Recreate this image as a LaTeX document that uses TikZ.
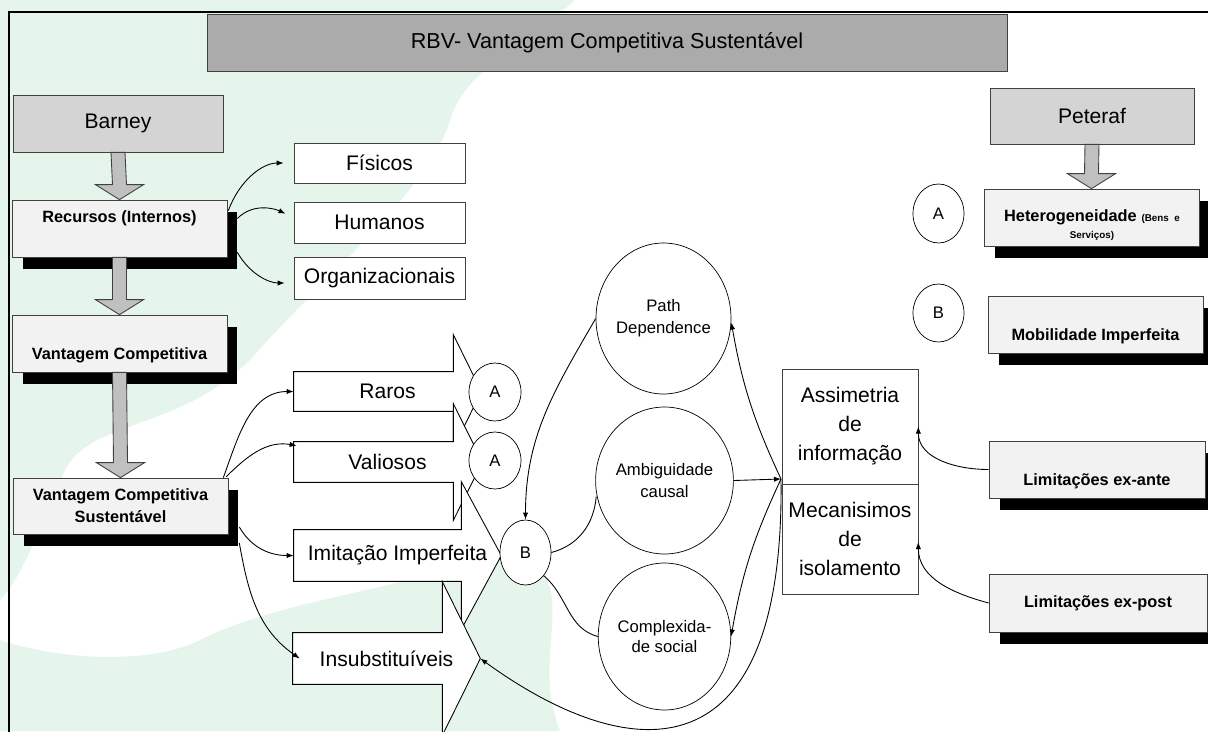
\documentclass[tikz,border=0pt]{standalone}
\usepackage{fontspec}
\setmainfont{Liberation Sans}
\usepackage{tikz}
\usetikzlibrary{calc,shapes.geometric,shadows,arrows.meta}
\definecolor{bggreen}{RGB}{229,245,235}
\definecolor{titlegray}{RGB}{171,171,171}
\definecolor{headgray}{RGB}{212,212,212}
\definecolor{boxgray}{RGB}{242,242,242}
\definecolor{arrgray}{RGB}{192,192,192}
\definecolor{edgegray}{RGB}{64,64,64}
\newcommand{\fmain}{\fontsize{12}{16.5}\selectfont}
\newcommand{\fbold}{\fontsize{9.3}{12.5}\selectfont\bfseries}
\newcommand{\fsmall}{\fontsize{9.5}{12.5}\selectfont}
\newcommand{\ftiny}{\fontsize{5.6}{7}\selectfont\bfseries}
\tikzstyle{headbox}=[
        draw=edgegray, fill=headgray, minimum height=1.14cm, inner sep=0pt, font=\fmain
]
\tikzstyle{shadowbox}=[
        draw=edgegray, fill=boxgray, minimum width=4.3cm, minimum height=1.14cm, inner sep=0pt,
        drop shadow={shadow xshift=0.21cm, shadow yshift=-0.24cm, fill=black, opacity=1}
]
\tikzstyle{plainbox}=[
        draw=edgegray, fill=white, inner sep=0pt, font=\fmain, align=center
]
\tikzstyle{bubble}=[
        draw, fill=white, ellipse, inner sep=0pt, font=\fsmall, align=center
]
\tikzstyle{arrbody}=[inner sep=0pt]
\tikzstyle{blockline}=[draw=black, fill=white, line width=0.5pt]
\tikzstyle{grayarr}=[draw=edgegray, fill=arrgray, line width=0.5pt]
\tikzstyle{conn}=[-{Latex[length=4pt,width=3pt]}, line width=0.5pt]
\tikzstyle{link}=[line width=0.5pt]
\newcommand{\downblock}[2]{%
        \draw[grayarr] ($(#1)+(-7,0)$) -- ($(#2)+(-7,-15)$) -- ($(#2)+(-24,-15)$) -- (#2)
                -- ($(#2)+(24,-15)$) -- ($(#2)+(7,-15)$) -- ($(#1)+(7,0)$) -- cycle;
}
\newcommand{\rightblock}[3]{%
        \draw[blockline] (#1.north west) -- (#1.north east) -- ++(0,-#2) -- ($(#1.east)+(#3,0)$)
                -- ($(#1.south east)+(0,#2)$) -- (#1.south east) -- (#1.south west) -- cycle;
}
\begin{document}
\begin{tikzpicture}[x=0.02cm, y=-0.02cm]
                        \useasboundingbox (0,0) rectangle (1208,731);
                        \clip (0,0) rectangle (1208,731);

                        \fill[bggreen] (0,0) -- (575,0) .. controls (520,50) and (465,70) .. (450,120)
                                .. controls (430,190) and (320,280) .. (250,360)
                                .. controls (180,430) and (90,420) .. (65,470)
                                .. controls (40,530) and (20,580) .. (0,600) -- cycle;
                        \fill[bggreen] (0,640) .. controls (60,660) and (150,665) .. (200,640)
                                .. controls (280,600) and (400,590) .. (470,560)
                                .. controls (510,545) and (550,560) .. (552,600)
                                .. controls (555,640) and (540,680) .. (560,731) -- (0,731) -- cycle;

                        \draw[line width=1.2pt] (9,760) -- (9,12) -- (1230,12);

                        \node[headbox, fill=titlegray, minimum width=16cm, font=\fontsize{12.3}{14}\selectfont] (title) at (607,42.5) {RBV- Vantagem Competitiva Sustentável};

                        \node[headbox, minimum width=4.2cm] (barney) at (118,123.5) {Barney};
                        \node[shadowbox] (rec) at (119.5,228.5) {};
                        \node[font=\fbold] at ($(rec.center)+(0,-10.5)$) {Recursos (Internos)};
                        \node[shadowbox] (vc) at (119.5,343.5) {};
                        \node[font=\fbold] at ($(vc.center)+(0,11.5)$) {Vantagem Competitiva};
                        \node[shadowbox, minimum height=1.12cm, font=\fbold, align=center] (vcs) at (120.5,506) {Vantagem Competitiva\\Sustentável};

                        \downblock{barney.south}{rec.north}
                        \downblock{rec.south}{vc.north}
                        \downblock{vc.south}{vcs.north}

                        \node[plainbox, minimum width=3.42cm, minimum height=0.8cm] (fis) at (379.5,163) {Físicos};
                        \node[plainbox, minimum width=3.42cm, minimum height=0.82cm] (hum) at (379.5,222.5) {Humanos};
                        \node[plainbox, minimum width=3.42cm, minimum height=0.84cm] (org) at (379.5,278) {Organizacionais};

                        \node[arrbody, minimum width=3.18cm, minimum height=0.78cm] (raros) at (373.5,391.5) {};
                        \rightblock{raros}{37}{28}
                        \node[font=\fmain] at ($(raros.center)+(14,0)$) {Raros};
                        \node[arrbody, minimum width=3.18cm, minimum height=0.8cm] (valio) at (373.5,462) {};
                        \rightblock{valio}{38}{29}
                        \node[font=\fmain] at ($(valio.center)+(14,0)$) {Valiosos};
                        \node[arrbody, minimum width=3.34cm, minimum height=1.02cm] (imi) at (377.5,555.5) {};
                        \rightblock{imi}{48}{40}
                        \node[font=\fmain] at ($(imi.center)+(20,0)$) {Imitação Imperfeita};
                        \node[arrbody, minimum width=2.98cm, minimum height=1.02cm] (insub) at (367.5,658.5) {};
                        \rightblock{insub}{51}{38}
                        \node[font=\fmain] at ($(insub.center)+(19,0)$) {Insubstituíveis};

                        \node[bubble, minimum width=1.04cm, minimum height=1.16cm] (ra) at (495,392) {A};
                        \node[bubble, minimum width=1.04cm, minimum height=1.14cm] (va) at (495,460.5) {A};
                        \node[bubble, minimum width=1.02cm, minimum height=1.3cm] (nb) at (525.5,552.5) {B};

                        \node[bubble, minimum width=2.7cm, minimum height=3.02cm] (pd) at (663.5,318.5) {Path\\Dependence};
                        \node[bubble, minimum width=2.62cm, minimum height=2.94cm] (amb) at (664.5,480.5) {Ambiguidade\\causal};
                        \node[bubble, minimum width=2.62cm, minimum height=2.94cm, font=\fontsize{9.5}{11.5}\selectfont] (cplx) at (664.5,636.5) {Complexida-\\de social};

                        \node[plainbox, minimum width=2.72cm, minimum height=2.3cm] (asym) at (850,426.5) {Assimetria\\de\\informação};
                        \node[plainbox, minimum width=2.72cm, minimum height=2.2cm] (mec) at (850,539) {Mecanisimos\\de\\isolamento};

                        \node[headbox, minimum width=4.08cm, minimum height=1.12cm] (peteraf) at (1092,116) {Peteraf};
                        \node[shadowbox] (het) at (1091.5,217.5) {};
                        \node[anchor=base] at (1092,221) {{\fbold Heterogeneidade} {\ftiny (Bens~~e}};
                        \node[anchor=base, font=\ftiny] at (1092,238) {Serviços)};
                        \downblock{peteraf.south}{het.north}
                        \node[bubble, minimum width=1.02cm, minimum height=1.18cm] (pa) at (938.5,213.5) {A};
                        \node[bubble, minimum width=1.02cm, minimum height=1.16cm] (pb) at (938.5,313) {B};
                        \node[shadowbox] (mob) at (1095.5,324.5) {};
                        \node[font=\fbold] at ($(mob.center)+(0,11.5)$) {Mobilidade Imperfeita};
                        \node[shadowbox, minimum width=4.32cm] (exante) at (1097,469.5) {};
                        \node[font=\fbold] at ($(exante.center)+(0,11.5)$) {Limitações ex-ante};
                        \node[shadowbox, minimum width=4.36cm, minimum height=1.16cm, font=\fbold] (expost) at (1098,603) {Limitações ex-post};

                        \draw[conn, shorten >=0.2cm] ($(rec.north east)+(1,11)$) to[out=70,in=180] (fis.west);
                        \draw[conn, shorten >=0.18cm] ($(rec.east)+(10,-10)$) to[out=45,in=155] ($(hum.west)+(0,-5)$);
                        \draw[conn, shorten >=0.18cm] ($(rec.south east)+(10,-5)$) to[out=-60,in=180] ($(org.west)+(0,5)$);

                        \draw[conn] ($(vcs.north east)+(-5,0)$) to[out=70,in=180] (raros.west);
                        \draw[conn] ($(vcs.north east)+(-2,-1)$) to[out=45,in=170] ($(valio.north west)+(3,4)$);
                        \draw[conn] ($(vcs.east)+(11,21)$) to[out=-60,in=180] (imi.west);
                        \draw[conn] ($(vcs.east)+(11,37)$) to[out=-80,in=145] ($(insub.west)+(7,0)$);

                        \coordinate (jn) at (781,479);
                        \coordinate (insubtip) at ($(insub.east)+(38,0)$);
                        \draw[conn] (pd.west) to[out=240,in=90] (nb.north);
                        \draw[link] (nb.east) to[out=15,in=-95] ($(amb.west)+(1,16)$);
                        \draw[link] (nb.south east) to[out=-40,in=165] (cplx.west);
                        \draw[conn] (jn) to[out=115,in=-80] ($(pd.east)+(0,4)$);
                        \draw[conn] (amb.east) -- (jn);
                        \draw[conn] (jn) to[out=-115,in=80] (cplx.east);
                        \draw[conn] (jn) .. controls (785,790) and (620,760) .. (insubtip);

                        \draw[conn] (exante.west) to[out=180,in=-90] (asym.east);
                        \draw[conn] (expost.west) to[out=165,in=-90] ($(mec.east)+(0,3)$);
                    \end{tikzpicture}
\end{document}
